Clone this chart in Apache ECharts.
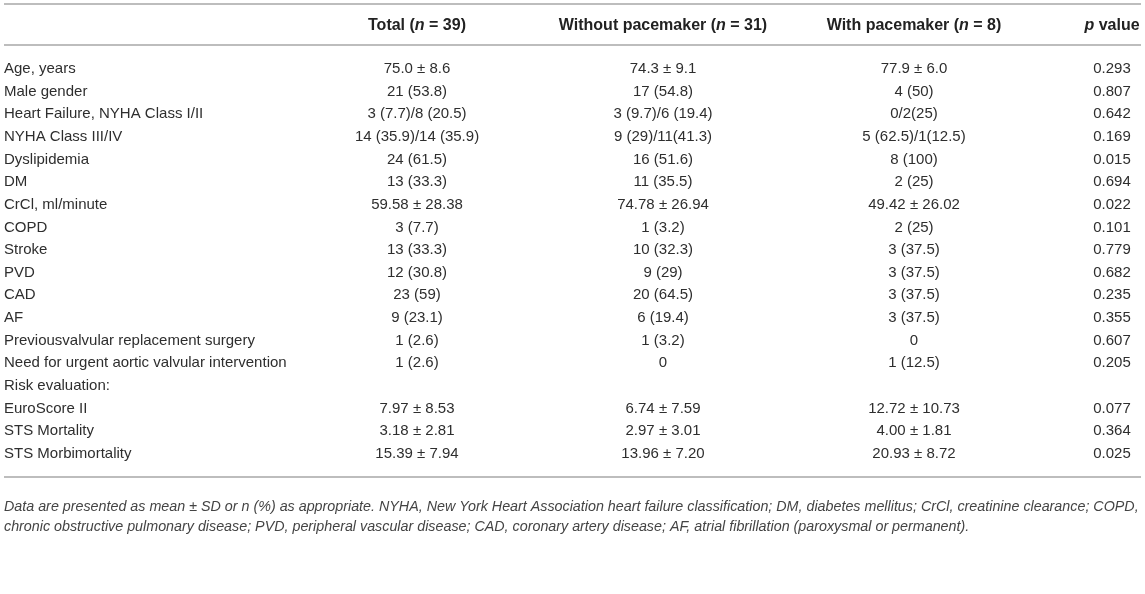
<!DOCTYPE html>
<html>
<head>
<meta charset="utf-8">
<script src="https://cdn.jsdelivr.net/npm/echarts@6/dist/echarts.min.js"></script>
<style>
html,body{margin:0;padding:0;background:#fff;}
#chart{width:1145px;height:594px;}
</style>
</head>
<body>
<div id="chart"></div>
<script>
// ---- data ----
const rowLabels = [
  'Age, years', 'Male gender', 'Heart Failure, NYHA Class I/II', 'NYHA Class III/IV',
  'Dyslipidemia', 'DM', 'CrCl, ml/minute', 'COPD', 'Stroke', 'PVD', 'CAD', 'AF',
  'Previousvalvular replacement surgery', 'Need for urgent aortic valvular intervention',
  'Risk evaluation:', 'EuroScore II', 'STS Mortality', 'STS Morbimortality'
];
const totalCol = [
  '75.0 ± 8.6', '21 (53.8)', '3 (7.7)/8 (20.5)', '14 (35.9)/14 (35.9)', '24 (61.5)',
  '13 (33.3)', '59.58 ± 28.38', '3 (7.7)', '13 (33.3)', '12 (30.8)', '23 (59)', '9 (23.1)',
  '1 (2.6)', '1 (2.6)', '', '7.97 ± 8.53', '3.18 ± 2.81', '15.39 ± 7.94'
];
const withoutCol = [
  '74.3 ± 9.1', '17 (54.8)', '3 (9.7)/6 (19.4)', '9 (29)/11(41.3)', '16 (51.6)',
  '11 (35.5)', '74.78 ± 26.94', '1 (3.2)', '10 (32.3)', '9 (29)', '20 (64.5)', '6 (19.4)',
  '1 (3.2)', '0', '', '6.74 ± 7.59', '2.97 ± 3.01', '13.96 ± 7.20'
];
const withCol = [
  '77.9 ± 6.0', '4 (50)', '0/2(25)', '5 (62.5)/1(12.5)', '8 (100)',
  '2 (25)', '49.42 ± 26.02', '2 (25)', '3 (37.5)', '3 (37.5)', '3 (37.5)', '3 (37.5)',
  '0', '1 (12.5)', '', '12.72 ± 10.73', '4.00 ± 1.81', '20.93 ± 8.72'
];
const pValues = [
  '0.293', '0.807', '0.642', '0.169', '0.015', '0.694', '0.022', '0.101', '0.779',
  '0.682', '0.235', '0.355', '0.607', '0.205', '', '0.077', '0.364', '0.025'
];
const headerParts = [
  [['b', 'Total ('], ['bi', 'n'], ['b', ' = 39)']],
  [['b', 'Without pacemaker ('], ['bi', 'n'], ['b', ' = 31)']],
  [['b', 'With pacemaker ('], ['bi', 'n'], ['b', ' = 8)']],
  [['bi', 'p'], ['b', ' value']]
];
const footnote = [
  'Data are presented as mean ± SD or n (%) as appropriate. NYHA, New York Heart Association heart failure classification; DM, diabetes mellitus; CrCl, creatinine clearance; COPD,',
  'chronic obstructive pulmonary disease; PVD, peripheral vascular disease; CAD, coronary artery disease; AF, atrial fibrillation (paroxysmal or permanent).'
];

// ---- layout ----
const W = 1145;
const colX = [417, 663, 914, 1112];
const FONT = 'Liberation Sans, Arial, Helvetica, sans-serif';
const TXT = '#2e2e2e';
const LINE = '#bdbdbd';
const BODY_FS = 15;
const HEAD_FS = 16;

const columns = [totalCol, withoutCol, withCol, pValues];

const series = columns.map((col, c) => ({
  type: 'scatter',
  silent: true,
  symbolSize: 0,
  itemStyle: { color: 'rgba(0,0,0,0)' },
  label: {
    show: true,
    position: [0, 0],
    align: 'center',
    verticalAlign: 'middle',
    formatter: p => p.value[2],
    color: TXT,
    textBorderWidth: 0,
    textBorderColor: 'transparent',
    opacity: 1,
    fontSize: BODY_FS,
    fontFamily: FONT
  },
  data: col.map((v, i) => [colX[c], i, v])
}));

const richStyles = {
  b: { fontWeight: 'bold', fontSize: HEAD_FS, fontFamily: FONT, fill: '#222', color: '#222' },
  bi: { fontWeight: 'bold', fontStyle: 'italic', fontSize: HEAD_FS, fontFamily: FONT, fill: '#222', color: '#222' }
};

const graphics = [
  { type: 'line', shape: { x1: 4, y1: 4, x2: W - 4, y2: 4 }, style: { stroke: LINE, lineWidth: 2 }, silent: true },
  { type: 'line', shape: { x1: 4, y1: 45, x2: W - 4, y2: 45 }, style: { stroke: LINE, lineWidth: 2 }, silent: true },
  { type: 'line', shape: { x1: 4, y1: 477, x2: W - 4, y2: 477 }, style: { stroke: LINE, lineWidth: 2 }, silent: true }
];
headerParts.forEach((parts, c) => {
  graphics.push({
    type: 'text',
    x: colX[c],
    y: 26,
    silent: true,
    style: {
      text: parts.map(p => '{' + p[0] + '|' + p[1] + '}').join(''),
      rich: richStyles,
      align: 'center',
      verticalAlign: 'middle',
      font: 'bold ' + HEAD_FS + 'px ' + FONT,
      fill: '#222'
    }
  });
});
footnote.forEach((line, k) => {
  graphics.push({
    type: 'text',
    x: 4,
    y: 507 + k * 20,
    silent: true,
    style: {
      text: line,
      font: 'italic 14.3px ' + FONT,
      fill: '#444',
      align: 'left',
      verticalAlign: 'middle'
    }
  });
});

const chart = echarts.init(document.getElementById('chart'));
chart.setOption({
  animation: false,
  backgroundColor: '#fff',
  grid: { left: 0, right: 0, top: 57.5, height: 407.7 },
  xAxis: { type: 'value', min: 0, max: W, show: false },
  yAxis: {
    type: 'category',
    inverse: true,
    data: rowLabels,
    axisLine: { show: false },
    axisTick: { show: false },
    splitLine: { show: false },
    axisLabel: {
      interval: 0,
      align: 'left',
      margin: -4,
      color: TXT,
      fontSize: BODY_FS,
      fontFamily: FONT
    }
  },
  series: series,
  graphic: graphics
});
</script>
</body>
</html>
